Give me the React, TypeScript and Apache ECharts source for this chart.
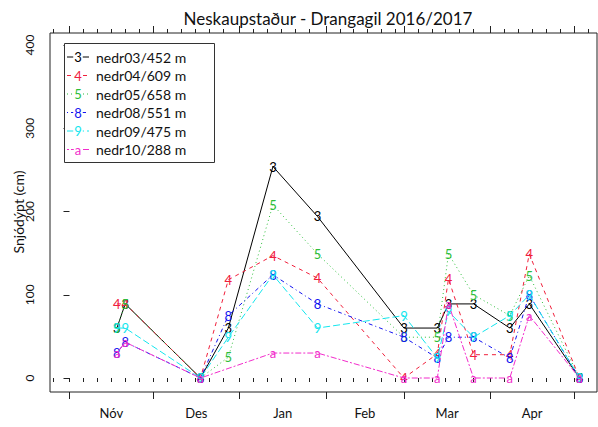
import React, { useEffect, useRef } from "react";
import * as echarts from "echarts";

const FONT = "Lato, 'Open Sans', sans-serif";

const chartTitle = "Neskaupstaður - Drangagil 2016/2017";
const yAxisTitle = "Snjódýpt (cm)";

const seriesNames = ["nedr03/452 m", "nedr04/609 m", "nedr05/658 m", "nedr08/551 m", "nedr09/475 m", "nedr10/288 m"];
const seriesChars = ["3", "4", "5", "8", "9", "a"];
const seriesColors = ["#000000", "#F0203C", "#2DBE3A", "#1414F0", "#14E6EE", "#F22CCB"];
const seriesDashes: (string | number[])[] = ["solid", [4, 4], [1, 3], [1, 3, 4, 3], [7, 3], [2, 2, 6, 2]];

const sampleDates = [
  "2016-11-18", "2016-11-21", "2016-12-18", "2016-12-28", "2017-01-13", "2017-01-29",
  "2017-03-01", "2017-03-13", "2017-03-17", "2017-03-26", "2017-04-08", "2017-04-15", "2017-05-03",
];
const nedr03 = [60, 89, 0, 60, 254, 194, 60, 60, 89, 89, 60, 89, 0];
const nedr04 = [89, 89, 0, 118, 147, 120, 0, 29, 119, 28, 28, 149, 0];
const nedr05 = [60, 89, 0, 25, 208, 149, 49, 49, 149, 100, 75, 123, 0];
const nedr08 = [30, 43, 0, 75, 124, 89, 49, 24, 49, 49, 24, 100, 0];
const nedr09 = [60, 60, 0, 49, 124, 60, 75, 24, 80, 49, 75, 100, 0];
const nedr10 = [30, 43, 0, null, 30, 30, 0, 0, 89, 0, 0, 75, 0];
const seriesValues = [nedr03, nedr04, nedr05, nedr08, nedr09, nedr10];

const yTicks = [0, 100, 200, 300, 400];
const monthNames = ["Nóv", "Des", "Jan", "Feb", "Mar", "Apr"];
const labelMonths = ["2016-11", "2016-12", "2017-01", "2017-02", "2017-03", "2017-04", "2017-05"];
const tickMonths = ["2016-10", "2016-11", "2016-12", "2017-01", "2017-02", "2017-03", "2017-04", "2017-05"];
const tickDaysOfMonth = [1, 6, 11, 16, 21, 26];

const ORIGIN = Date.UTC(2016, 10, 1);
const dayOf = (d: string) => (Date.parse(d) - ORIGIN) / 86400000;
const pad = (n: number) => String(n).padStart(2, "0");

const X_MIN = -7;
const X_MAX = 189.3;
const Y_MIN = -16.8;
const Y_MAX = 414.4;

const minorTicks = tickMonths
  .flatMap((m) => tickDaysOfMonth.map((d) => dayOf(`${m}-${pad(d)}`)))
  .filter((v) => v >= X_MIN && v <= X_MAX);
const majorTicks = tickMonths.map((m) => dayOf(`${m}-01`)).filter((v) => v >= X_MIN && v <= X_MAX);
const labelValues = monthNames.map((_, i) => {
  const s = dayOf(`${labelMonths[i]}-01`);
  const e = dayOf(`${labelMonths[i + 1]}-01`);
  return s + (e - s) / 2;
});

export default function App() {
  const ref = useRef<HTMLDivElement>(null);
  useEffect(() => {
    if (!ref.current) return;
    const chart = echarts.init(ref.current, null, { renderer: "svg" });
    const tickLine = { color: "#222", width: 1 };
    const baseX = {
      type: "value",
      min: X_MIN,
      max: X_MAX,
      gridIndex: 0,
      axisLine: { show: false },
      splitLine: { show: false },
      axisLabel: { show: false },
    };
    const series = seriesValues.map((vals, i) => ({
      type: "line",
      name: seriesNames[i],
      xAxisIndex: 0,
      yAxisIndex: 0,
      silent: true,
      data: sampleDates
        .map((d, j) => [dayOf(d), vals[j]])
        .filter((p) => p[1] !== null && p[1] !== undefined),
      symbol: "circle",
      symbolSize: 2,
      showSymbol: true,
      itemStyle: { color: "rgba(0,0,0,0)" },
      lineStyle: { color: seriesColors[i], width: 1, type: seriesDashes[i] },
      label: {
        show: true,
        position: "inside",
        formatter: seriesChars[i],
        color: seriesColors[i],
        fontSize: 13,
        fontFamily: FONT,
      },
      emphasis: { disabled: true },
      z: 2 + i,
    }));

    const rowY0 = 57;
    const rowStep = 18.5;
    const graphicEls: any[] = [
      {
        type: "text",
        x: 18,
        y: 212,
        rotation: Math.PI / 2,
        style: {
          text: yAxisTitle,
          fill: "#111",
          font: `14px ${FONT}`,
          align: "center",
          verticalAlign: "middle",
          textAlign: "center",
          textVerticalAlign: "middle",
        },
      },
      {
        type: "rect",
        shape: { x: 64.5, y: 43.5, width: 150, height: 119 },
        style: { fill: "#fff", stroke: "#333", lineWidth: 1 },
        z: 100,
      },
    ];
    seriesNames.forEach((name, i) => {
      const y = rowY0 + i * rowStep;
      graphicEls.push({
        type: "line",
        shape: { x1: 67, y1: y, x2: 89, y2: y },
        style: { stroke: seriesColors[i], lineWidth: 1, lineDash: seriesDashes[i] === "solid" ? null : seriesDashes[i] },
        z: 101,
      });
      graphicEls.push({
        type: "text",
        x: 78,
        y: y,
        style: {
          text: seriesChars[i],
          fill: seriesColors[i],
          font: `13px ${FONT}`,
          align: "center",
          verticalAlign: "middle",
          textAlign: "center",
          textVerticalAlign: "middle",
          backgroundColor: "#fff",
          padding: [0, 1],
        },
        z: 102,
      });
      graphicEls.push({
        type: "text",
        x: 96,
        y: y,
        style: {
          text: name,
          fill: "#111",
          font: `14px ${FONT}`,
          align: "left",
          verticalAlign: "middle",
          textAlign: "left",
          textVerticalAlign: "middle",
        },
        z: 102,
      });
    });

    chart.setOption({
      animation: false,
      backgroundColor: "#fff",
      title: {
        text: chartTitle,
        left: 323,
        textAlign: "center",
        top: 5,
        textStyle: { fontFamily: FONT, fontSize: 17, fontWeight: "normal", color: "#111" },
      },
      grid: {
        left: 50,
        right: 1,
        top: 33,
        bottom: 35,
        show: true,
        borderColor: "#222",
        borderWidth: 1,
        backgroundColor: "transparent",
        containLabel: false,
        outerBoundsMode: "none",
      },
      xAxis: [
        {
          ...baseX,
          position: "bottom",
          axisTick: { show: true, customValues: minorTicks, length: 4, lineStyle: tickLine },
          axisLabel: {
            show: true,
            customValues: labelValues,
            formatter: (v: number) => {
              const idx = labelValues.findIndex((m) => Math.abs(m - v) < 0.01);
              return idx >= 0 ? monthNames[idx] : "";
            },
            margin: 14,
            fontSize: 13,
            fontFamily: FONT,
            color: "#111",
          },
        },
        { ...baseX, position: "bottom", axisTick: { show: true, customValues: majorTicks, length: 7, lineStyle: tickLine } },
        { ...baseX, position: "top", axisTick: { show: true, customValues: minorTicks, length: 4, lineStyle: tickLine } },
        { ...baseX, position: "top", axisTick: { show: true, customValues: majorTicks, length: 7, lineStyle: tickLine } },
      ],
      yAxis: {
        type: "value",
        min: Y_MIN,
        max: Y_MAX,
        axisLine: { show: false },
        splitLine: { show: false },
        axisTick: { show: true, customValues: yTicks, length: 6, lineStyle: tickLine },
        axisLabel: {
          customValues: yTicks,
          rotate: 90,
          margin: 15,
          fontSize: 12,
          fontFamily: FONT,
          color: "#111",
        },
      },
      graphic: { elements: graphicEls },
      series,
    });
    return () => chart.dispose();
  }, []);
  return <div ref={ref} style={{ position: "fixed", left: 0, top: 0, width: 598, height: 427 }} />;
}
